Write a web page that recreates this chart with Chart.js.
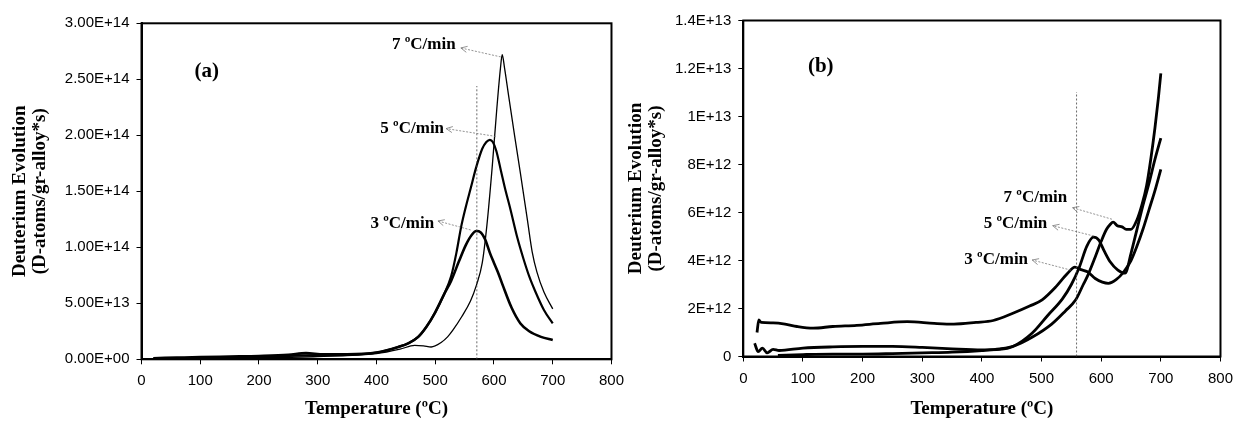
<!DOCTYPE html>
<html>
<head>
<meta charset="utf-8">
<script src="https://cdn.jsdelivr.net/npm/chart.js@4.4.1/dist/chart.umd.min.js"></script>
<style>
  body { margin: 0; background: #fff; }
  #wrap { position: relative; width: 1241px; height: 421px; }
  canvas { position: absolute; top: 0; }
</style>
</head>
<body>
<div id="wrap">
  <canvas id="chartA" width="632" height="421" style="left:0"></canvas>
  <canvas id="chartB" width="621" height="421" style="left:620px"></canvas>
</div>
<script>
// axis ticks
const xTicks = [0, 100, 200, 300, 400, 500, 600, 700, 800];
const yTicksA = [0, 5e13, 1e14, 1.5e14, 2e14, 2.5e14, 3e14];
const yLabelsA = ['0.00E+00', '5.00E+13', '1.00E+14', '1.50E+14', '2.00E+14', '2.50E+14', '3.00E+14'];
const yTicksB = [0, 2e12, 4e12, 6e12, 8e12, 1e13, 1.2e13, 1.4e13];
const yLabelsB = ['0', '2E+12', '4E+12', '6E+12', '8E+12', '1E+13', '1.2E+13', '1.4E+13'];
const rates = ['3 ºC/min', '5 ºC/min', '7 ºC/min'];

// panel (a)
const a3T = [20, 60, 100, 150, 200, 250, 280, 310, 350, 400, 437, 455, 471, 485, 500, 515, 527, 540, 552, 562, 570, 577, 585, 593, 600, 608, 615, 630, 645, 660, 680, 700];
const a3V = [0.1e13, 0.15e13, 0.2e13, 0.25e13, 0.3e13, 0.4e13, 0.55e13, 0.45e13, 0.45e13, 0.6e13, 1.1e13, 1.45e13, 2.0e13, 2.9e13, 4.2e13, 5.8e13, 7.0e13, 8.7e13, 10.2e13, 11.1e13, 11.45e13, 11.35e13, 10.7e13, 9.5e13, 8.6e13, 7.6e13, 6.6e13, 4.6e13, 3.2e13, 2.5e13, 2.0e13, 1.72e13];
const a5T = [20, 100, 200, 280, 350, 400, 437, 455, 471, 485, 500, 515, 527, 536, 544, 552, 560, 570, 580, 587, 593, 598, 604, 612, 620, 627, 640, 650, 660, 670, 685, 700];
const a5V = [0.05e13, 0.15e13, 0.2e13, 0.35e13, 0.4e13, 0.6e13, 1.1e13, 1.45e13, 2.0e13, 2.9e13, 4.2e13, 5.8e13, 7.4e13, 9.5e13, 11.8e13, 13.6e13, 15.2e13, 17.2e13, 18.8e13, 19.4e13, 19.6e13, 19.4e13, 18.6e13, 16.8e13, 15.0e13, 13.6e13, 10.8e13, 9.0e13, 7.4e13, 6.1e13, 4.4e13, 3.2e13];
const a7T = [20, 100, 200, 300, 400, 440, 465, 480, 493, 510, 521, 530, 545, 560, 570, 580, 588, 597, 605, 611, 614, 618, 625, 635, 645, 657, 665, 673, 685, 700];
const a7V = [0.05e13, 0.1e13, 0.15e13, 0.25e13, 0.5e13, 0.9e13, 1.25e13, 1.2e13, 1.1e13, 1.5e13, 2.0e13, 2.6e13, 3.8e13, 5.2e13, 6.6e13, 8.6e13, 12.0e13, 17.2e13, 22.5e13, 26e13, 27.2e13, 26e13, 23.5e13, 20e13, 16.6e13, 12.4e13, 9.6e13, 7.8e13, 6.0e13, 4.5e13];

// panel (b)
const b3T = [23, 26, 30, 50, 70, 90, 117, 150, 190, 230, 275, 320, 353, 390, 419, 452, 480, 501, 524, 543, 556, 566, 577, 590, 602, 612, 625, 637, 650, 660, 670, 680, 690, 700];
const b3V = [1.0e12, 1.52e12, 1.42e12, 1.4e12, 1.35e12, 1.25e12, 1.18e12, 1.25e12, 1.3e12, 1.38e12, 1.45e12, 1.38e12, 1.35e12, 1.42e12, 1.5e12, 1.8e12, 2.1e12, 2.36e12, 2.9e12, 3.45e12, 3.72e12, 3.62e12, 3.53e12, 3.25e12, 3.1e12, 3.05e12, 3.2e12, 3.5e12, 4.0e12, 4.6e12, 5.3e12, 6.1e12, 6.9e12, 7.8e12];
const b5T = [19, 25, 32, 40, 50, 60, 100, 150, 200, 250, 300, 350, 400, 430, 452, 484, 510, 535, 550, 563, 576, 587, 596, 605, 615, 628, 640, 650, 660, 670, 680, 690, 700];
const b5V = [0.55e12, 0.2e12, 0.35e12, 0.15e12, 0.3e12, 0.25e12, 0.35e12, 0.4e12, 0.42e12, 0.42e12, 0.38e12, 0.32e12, 0.28e12, 0.3e12, 0.42e12, 0.97e12, 1.7e12, 2.4e12, 3.0e12, 3.7e12, 4.6e12, 4.97e12, 4.85e12, 4.4e12, 3.95e12, 3.6e12, 3.47e12, 4.3e12, 5.3e12, 6.3e12, 7.2e12, 8.2e12, 9.1e12];
const b7T = [58, 100, 150, 200, 250, 300, 350, 400, 430, 455, 484, 517, 540, 557, 570, 577, 590, 600, 609, 615, 620, 627, 635, 642, 650, 660, 668, 676, 683, 690, 696, 700];
const b7V = [0.05e12, 0.08e12, 0.1e12, 0.1e12, 0.12e12, 0.15e12, 0.18e12, 0.25e12, 0.32e12, 0.45e12, 0.8e12, 1.35e12, 1.9e12, 2.35e12, 3.0e12, 3.35e12, 4.15e12, 4.8e12, 5.3e12, 5.5e12, 5.6e12, 5.45e12, 5.4e12, 5.3e12, 5.3e12, 5.7e12, 6.3e12, 7.1e12, 8.2e12, 9.5e12, 10.8e12, 11.8e12];

const pts = (t, v) => t.map((x, i) => ({x: x, y: v[i]}));

// little overlay: frame, dotted marker, arrows with labels
const overlay = {
  id: 'overlay',
  afterDatasetsDraw(chart, args, o) {
    const {ctx, chartArea: ca, scales: {x, y}} = chart;
    const px = v => x.getPixelForValue(v), py = v => y.getPixelForValue(v);
    ctx.save();
    ctx.strokeStyle = '#000';
    ctx.lineWidth = 2;
    ctx.strokeRect(ca.left, ca.top, ca.right - ca.left, ca.bottom - ca.top);

    ctx.setLineDash([2, 2]);
    ctx.lineWidth = 0.8;
    ctx.strokeStyle = '#444';
    ctx.beginPath();
    ctx.moveTo(px(o.vline[0]) + 0.5, py(0));
    ctx.lineTo(px(o.vline[0]) + 0.5, py(o.vline[1]));
    ctx.stroke();

    ctx.fillStyle = '#000';
    ctx.textAlign = 'center';
    ctx.textBaseline = 'middle';
    ctx.font = 'bold 21px "Liberation Serif"';
    ctx.fillText(o.tag[2], px(o.tag[0]), py(o.tag[1]));

    ctx.font = 'bold 17px "Liberation Serif"';
    o.notes.forEach((n, i) => {
      ctx.setLineDash([]);
      ctx.fillText(rates[i], px(n.label[0]), py(n.label[1]));
      const hx = px(n.head[0]), hy = py(n.head[1]);
      const tx = px(n.tail[0]), ty = py(n.tail[1]);
      ctx.strokeStyle = '#777';
      ctx.lineWidth = 0.8;
      ctx.setLineDash([2, 1.5]);
      ctx.beginPath();
      ctx.moveTo(tx, ty);
      ctx.lineTo(hx, hy);
      ctx.stroke();
      ctx.setLineDash([]);
      const ang = Math.atan2(ty - hy, tx - hx);
      ctx.beginPath();
      ctx.moveTo(hx + 7 * Math.cos(ang - 0.45), hy + 7 * Math.sin(ang - 0.45));
      ctx.lineTo(hx, hy);
      ctx.lineTo(hx + 7 * Math.cos(ang + 0.45), hy + 7 * Math.sin(ang + 0.45));
      ctx.stroke();
    });
    ctx.restore();
  }
};

function makeChart(id, sets, widths, yTicks, yLabels, yMax, geo, notes) {
  return new Chart(document.getElementById(id), {
    type: 'line',
    data: {
      datasets: sets.map((d, i) => ({
        label: rates[i],
        data: d,
        borderColor: '#000',
        borderWidth: widths[i],
        pointRadius: 0,
        fill: false,
        cubicInterpolationMode: 'monotone'
      }))
    },
    plugins: [overlay],
    options: {
      responsive: false,
      animation: false,
      layout: { padding: { left: 0, right: geo.right, top: geo.top, bottom: 0 } },
      plugins: {
        legend: { display: false },
        tooltip: { enabled: false },
        overlay: notes
      },
      scales: {
        x: {
          type: 'linear',
          min: 0,
          max: 800,
          afterBuildTicks: s => { s.ticks = xTicks.map(v => ({value: v})); },
          afterFit: s => { s.height = geo.xh; },
          ticks: {
            color: '#000',
            font: { family: 'Liberation Sans', size: 15 },
            padding: 8,
            maxRotation: 0,
            autoSkip: false
          },
          grid: { drawOnChartArea: false, drawTicks: true, tickLength: 5, color: '#000' },
          border: { display: true, color: '#000', width: 2 },
          title: {
            display: true,
            text: 'Temperature (ºC)',
            color: '#000',
            font: { family: 'Liberation Serif', size: 19, weight: 'bold', lineHeight: 1.08 },
            padding: { top: 0, bottom: 2 }
          }
        },
        y: {
          type: 'linear',
          min: 0,
          max: yMax,
          afterBuildTicks: s => { s.ticks = yTicks.map(v => ({value: v})); },
          afterFit: s => { s.width = geo.yw; },
          ticks: {
            color: '#000',
            font: { family: 'Liberation Sans', size: 15 },
            padding: 7,
            callback: (v, i) => yLabels[i]
          },
          grid: { drawOnChartArea: false, drawTicks: true, tickLength: 5, color: '#000' },
          border: { display: true, color: '#000', width: 2 },
          title: {
            display: true,
            text: ['Deuterium Evolution', '(D-atoms/gr-alloy*s)'],
            color: '#000',
            font: { family: 'Liberation Serif', size: 19, weight: 'bold', lineHeight: 1.08 },
            padding: { top: geo.tp, bottom: 0 }
          }
        }
      }
    }
  });
}

makeChart('chartA',
  [pts(a3T, a3V), pts(a5T, a5V), pts(a7T, a7V)],
  [2.6, 2.2, 1.3], yTicksA, yLabelsA, 3e14,
  { right: 17, top: 23.3, xh: 61.7, yw: 141.5, tp: 9.4 },
  {
    vline: [570, 2.44e14],
    tag: [111, 2.57e14, '(a)'],
    notes: [
      { label: [443.9, 1.208e14], head: [504.6, 1.235e14], tail: [560.3, 1.155e14] },
      { label: [460.8, 2.06e14], head: [518.6, 2.06e14], tail: [603, 1.99e14] },
      { label: [480.5, 2.806e14], head: [543.5, 2.78e14], tail: [611.5, 2.70e14] }
    ]
  });

makeChart('chartB',
  [pts(b3T, b3V), pts(b5T, b5V), pts(b7T, b7V)],
  [2.8, 2.8, 2.8], yTicksB, yLabelsB, 1.4e13,
  { right: 14.3, top: 20.5, xh: 64.5, yw: 123.3, tp: 5.7 },
  {
    vline: [558, 1.102e13],
    tag: [129.8, 1.207e13, '(b)'],
    notes: [
      { label: [424, 4.05e12], head: [484.4, 4.02e12], tail: [549, 3.6e12] },
      { label: [456.3, 5.55e12], head: [518.7, 5.45e12], tail: [587.6, 5.02e12] },
      { label: [489.7, 6.63e12], head: [551.8, 6.2e12], tail: [618, 5.72e12] }
    ]
  });
</script>
</body>
</html>
